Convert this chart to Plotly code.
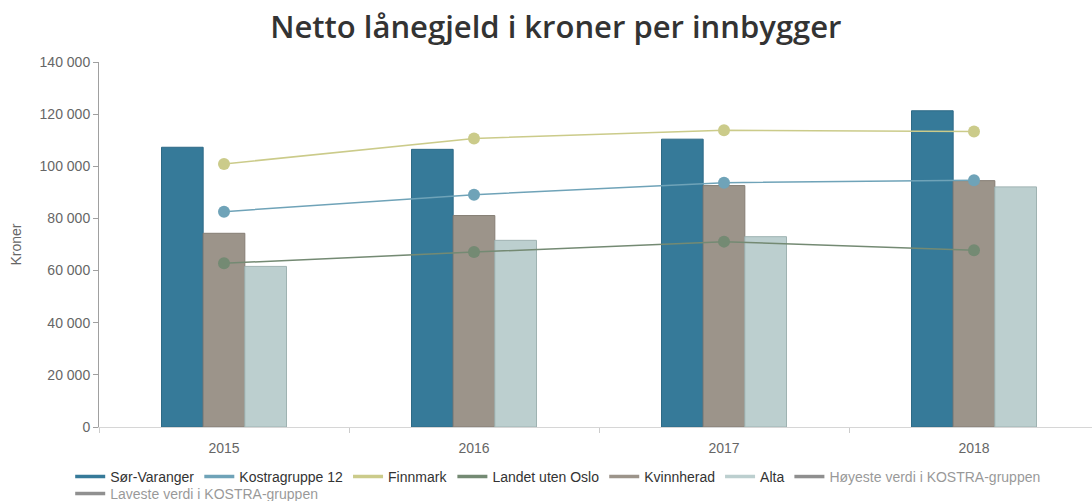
import plotly.graph_objects as go

years = ["2015", "2016", "2017", "2018"]

sor_varanger = [107300, 106500, 110400, 121300]
kvinnherad = [74300, 81100, 92600, 94500]
alta = [61600, 71600, 73000, 92100]

kostragruppe_12 = [82600, 89100, 93700, 94600]
finnmark = [100900, 110700, 113800, 113300]
landet_uten_oslo = [62800, 67100, 71100, 67800]

hoyeste_kostra = [None, None, None, None]
laveste_kostra = [None, None, None, None]

y_ticks = [0, 20000, 40000, 60000, 80000, 100000, 120000, 140000]

C_SOR = "#367a99"
C_KOSTRA = "#6fa3b8"
C_FINN = "#cbcb8a"
C_LANDET = "#748a73"
C_KVINN = "#9c948a"
C_ALTA = "#bccfcf"
C_HIDDEN = "#222222"

fig = go.Figure()

# bars
for name, vals, col, edge in [
    ("Sør-Varanger", sor_varanger, C_SOR, "#2e6a86"),
    ("Kvinnherad", kvinnherad, C_KVINN, "#857d74"),
    ("Alta", alta, C_ALTA, "#9fb3b2"),
]:
    fig.add_trace(go.Bar(x=years, y=vals, name=name, marker=dict(color=col, line=dict(color=edge, width=1)),
                         showlegend=False))

# lines
for name, vals, col in [
    ("Kostragruppe 12", kostragruppe_12, C_KOSTRA),
    ("Finnmark", finnmark, C_FINN),
    ("Landet uten Oslo", landet_uten_oslo, C_LANDET),
]:
    fig.add_trace(go.Scatter(x=years, y=vals, name=name, mode="lines+markers",
                             line=dict(color=col, width=1.5), marker=dict(color=col, size=12),
                             showlegend=False))

# legend entries (line symbols)
legend_items = [
    ("Sør-Varanger", C_SOR),
    ("Kostragruppe 12", C_KOSTRA),
    ("Finnmark", C_FINN),
    ("Landet uten Oslo", C_LANDET),
    ("Kvinnherad", C_KVINN),
    ("Alta", C_ALTA),
]
for name, col in legend_items:
    fig.add_trace(go.Scatter(x=years, y=[None] * len(years), name=name, mode="lines",
                             line=dict(color=col, width=3.5), hoverinfo="skip",
                             showlegend=True, legend="legend"))

fig.add_trace(go.Scatter(x=years, y=hoyeste_kostra, name="Høyeste verdi i KOSTRA-gruppen",
                         mode="lines", line=dict(color=C_HIDDEN, width=3.5), visible="legendonly",
                         showlegend=True, legend="legend"))
fig.add_trace(go.Scatter(x=years, y=laveste_kostra, name="Laveste verdi i KOSTRA-gruppen",
                         mode="lines", line=dict(color=C_HIDDEN, width=3.5), visible="legendonly",
                         showlegend=True, legend="legend2"))

FONT = "Liberation Sans, Arial, sans-serif"
leg_x = -0.029

fig.update_layout(
    width=1092, height=501,
    showlegend=True,
    margin=dict(l=99, r=0, t=62, b=74, autoexpand=False),
    paper_bgcolor="white", plot_bgcolor="white",
    separators=", ",
    barmode="group", bargap=0.5, bargroupgap=0,
    font=dict(family=FONT, size=14, color="#666666"),
    title=dict(text="Netto lånegjeld i kroner per innbygger", x=0.509, xanchor="center",
               y=1 - 27 / 501, yanchor="middle",
               font=dict(family="Open Sans, sans-serif", size=31, color="#333333", weight=600)),
    legend=dict(orientation="h", x=leg_x, xanchor="left", y=-0.093, yanchor="top",
                font=dict(family=FONT, size=14, color="#333333"), bgcolor="rgba(0,0,0,0)",
                itemclick=False, itemdoubleclick=False),
    legend2=dict(orientation="h", x=leg_x, xanchor="left", y=-0.1395, yanchor="top",
                 font=dict(family=FONT, size=14, color="#333333"), bgcolor="rgba(0,0,0,0)",
                 itemclick=False, itemdoubleclick=False),
    xaxis=dict(type="category", range=[-0.5, 3.472], showgrid=False, showline=True,
               linecolor="#d6d6d6", linewidth=1, ticks="outside", tickson="boundaries",
               ticklen=5, tickcolor="#cccccc", ticklabelstandoff=8,
               tickfont=dict(family=FONT, size=14, color="#666666"), fixedrange=True),
    yaxis=dict(range=[0, 140000], tickvals=y_ticks, tickformat=",d", showgrid=False,
               zeroline=False, showline=True, linecolor="#a0a0a0", linewidth=1,
               ticks="outside", ticklen=5, tickcolor="#a0a0a0",
               tickfont=dict(family=FONT, size=14, color="#666666"),
               title=dict(text="Kroner", font=dict(family=FONT, size=14, color="#666666"), standoff=14),
               fixedrange=True),
)

fig.write_html("out.html", config={"displayModeBar": False},
               post_script="document.body.style.margin='0';document.body.style.overflow='hidden';")
